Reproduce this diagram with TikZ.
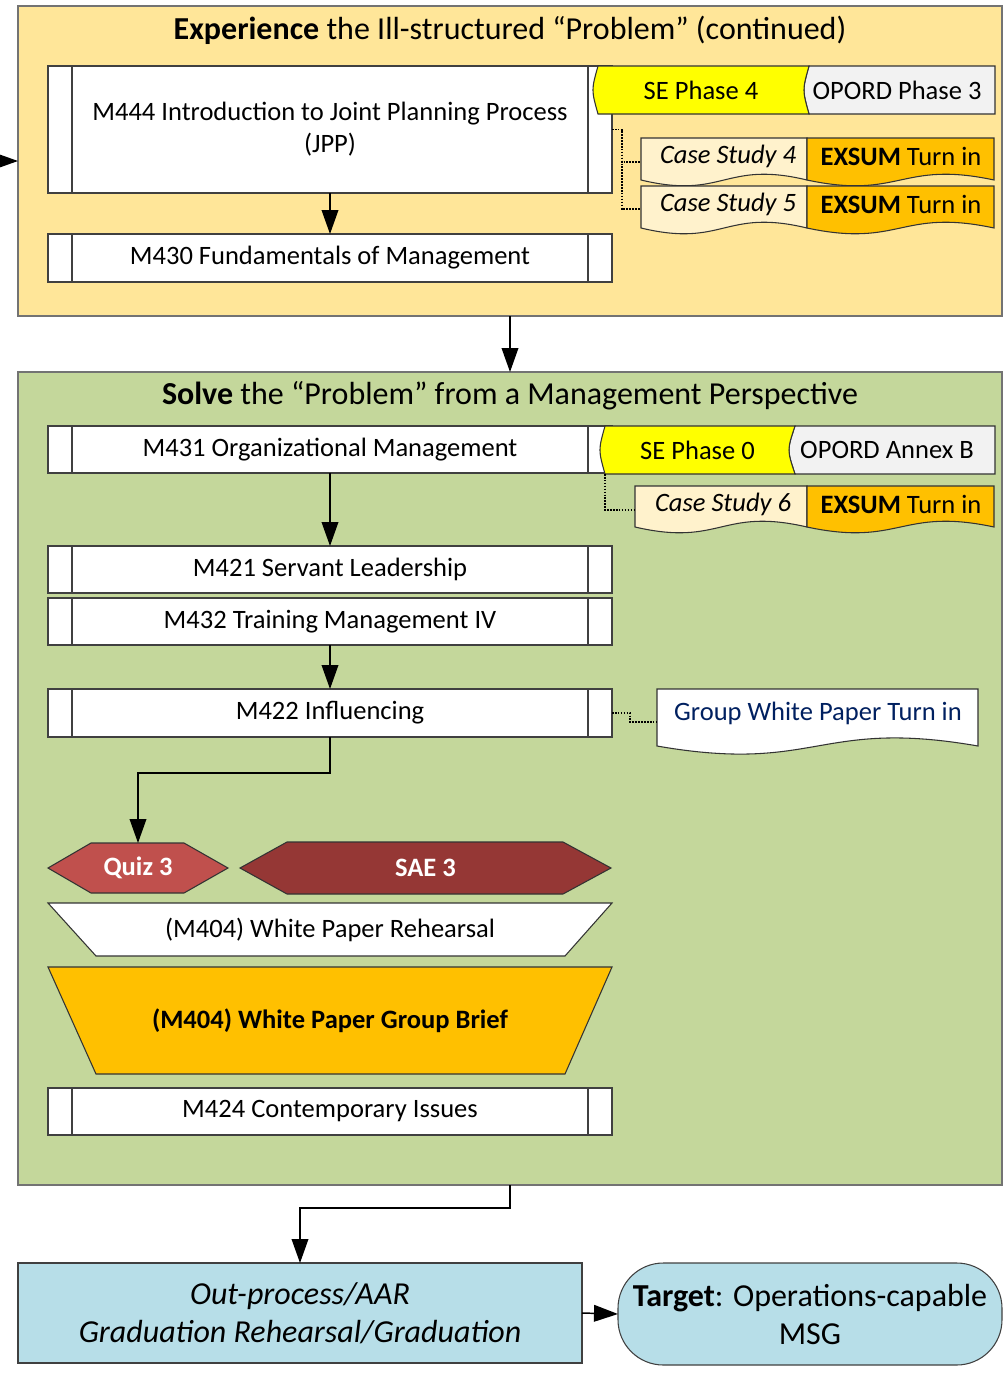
\documentclass[tikz,border=0pt]{standalone}
\usepackage{fontspec}
\setmainfont{Carlito}
\usetikzlibrary{fit,arrows.meta}
\definecolor{topbg}{HTML}{FFE699}
\definecolor{botbg}{HTML}{C4D79B}
\definecolor{yel}{HTML}{FFFF00}
\definecolor{lgray}{HTML}{F2F2F2}
\definecolor{cream}{HTML}{FFF2CC}
\definecolor{orng}{HTML}{FFC000}
\definecolor{quizred}{HTML}{C0504D}
\definecolor{saered}{HTML}{953735}
\definecolor{lblue}{HTML}{B7DEE8}
\definecolor{navy}{HTML}{002060}
\newcommand\docshp[6]{%
  \draw[#6] (#1,#2) -- (#3,#2) -- (#3,#4) .. controls ({(#1+#3)/2},{#4-#5}) and ({(#1+#3)/2},{#4+#5}) .. (#1,#4) -- cycle;}
\newcommand\bigfs{\fontsize{24}{28.5}\selectfont}
\begin{document}
\begin{tikzpicture}[x=0.75pt,y=-0.75pt,
  font=\fontsize{19.9}{24}\selectfont,
  box/.style 2 args={minimum width={#1*0.75pt}, minimum height={#2*0.75pt}, inner sep=0pt, outer sep=0pt},
  frm/.style={draw=black!55, line width=1pt},
  anc/.style={inner sep=0pt},
  shp/.style={draw=black!80, line width=0.8pt},
  sub/.style={draw=black!75, fill=white, line width=0.8pt, align=center,
    path picture={\draw[black!75, line width=0.8pt]
      ([xshift=18pt]path picture bounding box.north west) -- ([xshift=18pt]path picture bounding box.south west)
      ([xshift=-18pt]path picture bounding box.north east) -- ([xshift=-18pt]path picture bounding box.south east);}},
  arr/.style={-{Triangle[length=18pt,width=12.5pt]}, line width=1.1pt},
  dotc/.style={densely dotted, line width=1.2pt},
]
\useasboundingbox (0,0) rectangle (1005,1375);

% ---------- top frame ----------
\node[frm, fill=topbg, box={984}{310}] (top) at (510,161) {};
\node[anc, font=\bigfs] (toptitle) at (510,30) {\textbf{Experience} the Ill-structured “Problem” (continued)};

\node[sub, box={564}{127}] (m444) at (330,129.5) {M444 Introduction to Joint Planning Process\\(JPP)};
\node[sub, box={564}{48}] (m430) at (330,258) {M430 Fundamentals of Management};

% SE Phase 4 / OPORD Phase 3
\draw[shp, fill=lgray] (809,66) -- (995,66) -- (995,114) -- (809,114) .. controls (802.3,90) .. (809,66) -- cycle;
\draw[shp, fill=yel] (598,66) -- (809,66) .. controls (802.3,90) .. (809,114) -- (598,114) .. controls (591.3,90) .. (598,66) -- cycle;
\node[box={216}{48}] (se4) at (701,90) {SE Phase 4};
\node[anc] (op3) at (897,90) {OPORD Phase 3};

% Case studies 4, 5
\docshp{641}{138}{807}{180}{20}{shp, fill=cream}
\docshp{807}{138}{994}{180}{20}{shp, fill=orng}
\docshp{641}{186}{807}{228}{20}{shp, fill=cream}
\docshp{807}{186}{994}{228}{20}{shp, fill=orng}
\node[anc, fit={(641,138)(807,186)}] (cs4) {};
\node[anc, fit={(641,186)(807,232)}] (cs5) {};
\node[anc] (cs4t) at (728,156) {\itshape Case Study 4};
\node[anc] (ex4) at (901,156) {\textbf{EXSUM} Turn in};
\node[anc] (cs5t) at (728,204) {\itshape Case Study 5};
\node[anc] (ex5) at (901,204) {\textbf{EXSUM} Turn in};

\draw[dotc] (m444.east) -- ++(10,0) |- (cs4.west);
\draw[dotc] (m444.east) -- ++(10,0) |- (cs5.west);
\draw[arr] (m444) -- (m430);

% ---------- bottom frame ----------
\node[frm, fill=botbg, box={984}{813}] (bot) at (510,778.5) {};
\node[anc, font=\bigfs] (bottitle) at (510,396) {\textbf{Solve} the “Problem” from a Management Perspective};

\node[sub, box={564}{47}] (m431) at (330,449.5) {M431 Organizational Management};

% SE Phase 0 / OPORD Annex B
\draw[shp, fill=lgray] (795,426) -- (995,426) -- (995,474) -- (795,474) .. controls (787,450) .. (795,426) -- cycle;
\draw[shp, fill=yel] (605,426) -- (795,426) .. controls (787,450) .. (795,474) -- (605,474) .. controls (598.3,450) .. (605,426) -- cycle;
\node[box={195}{48}] (se0) at (697.5,450) {SE Phase 0};
\node[anc] (opb) at (887,450) {OPORD Annex B};

\docshp{635}{486}{807}{527}{20}{shp, fill=cream}
\docshp{807}{486}{994}{527}{20}{shp, fill=orng}
\node[anc, fit={(635,486)(807,534)}] (cs6) {};
\node[anc] (cs6t) at (723,504) {\itshape Case Study 6};
\node[anc] (ex6) at (901,504) {\textbf{EXSUM} Turn in};
\draw[dotc] ([xshift=3.75pt]se0.south west) |- (cs6.west);

\node[sub, box={564}{47}] (m421) at (330,569.5) {M421 Servant Leadership};
\node[sub, box={564}{47}] (m432) at (330,621.5) {M432 Training Management IV};
\node[sub, box={564}{48}] (m422) at (330,713) {M422 Influencing};

\docshp{657}{689}{978}{746}{28}{shp, fill=white}
\node[anc, fit={(657,689)(978,755)}] (gwp) {};
\node[anc, text=navy] (gwpt) at (818,713) {Group White Paper Turn in};
\draw[dotc] (m422.east) -- ++(18,0) |- (gwp.west);

\draw[arr] (m431) -- (m421);
\draw[arr] (m432) -- (m422);

% hexagons
\draw[shp, fill=quizred] (48,868) -- (91,843) -- (184,843) -- (228,868) -- (184,893) -- (91,893) -- cycle;
\draw[shp, fill=saered] (240,868) -- (287,842) -- (563,842) -- (611,868) -- (563,894) -- (287,894) -- cycle;
\node[box={180}{50}, text=white, font=\fontsize{19.9}{24}\selectfont\bfseries] (quiz) at (138,868) {Quiz 3};
\node[box={371}{52}, text=white, font=\fontsize{19.9}{24}\selectfont\bfseries] (sae) at (425.5,868) {SAE 3};
\draw[arr] (m422.south) -- ++(0,36) -| (quiz.north);

% trapezoids
\draw[shp, fill=white] (48,903) -- (612,903) -- (565,956) -- (96,956) -- cycle;
\node[box={564}{53}] (wpr) at (330,929.5) {(M404) White Paper Rehearsal};
\draw[shp, fill=orng] (48,967) -- (612,967) -- (565,1074) -- (96,1074) -- cycle;
\node[box={564}{107}, font=\fontsize{19.9}{24}\selectfont\bfseries] (wpgb) at (330,1020.5) {(M404) White Paper Group Brief};

\node[sub, box={564}{47}] (m424) at (330,1111.5) {M424 Contemporary Issues};

% ---------- bottom row ----------
\node[draw=black!75, line width=0.8pt, fill=lblue, box={564}{100}, align=center, font=\bigfs\itshape] (outp) at (300,1313) {Out-process/AAR\\Graduation Rehearsal/Graduation};
\node[draw=black!75, line width=0.8pt, fill=lblue, box={384}{102}, align=center, font=\bigfs, rounded corners=34pt] (tgt) at (810,1314) {\textbf{Target}: Operations-capable\\MSG};

% main connectors
\coordinate (inarr) at (0,161);
\draw[arr] (inarr) -- (top.west);
\draw[arr] (top.south) -- (bot.north);
\draw[arr] (bot.south) -- ++(0,23) -| (outp.north);
\draw[arr] (outp.east) -- (tgt.west);
\end{tikzpicture}
\end{document}
